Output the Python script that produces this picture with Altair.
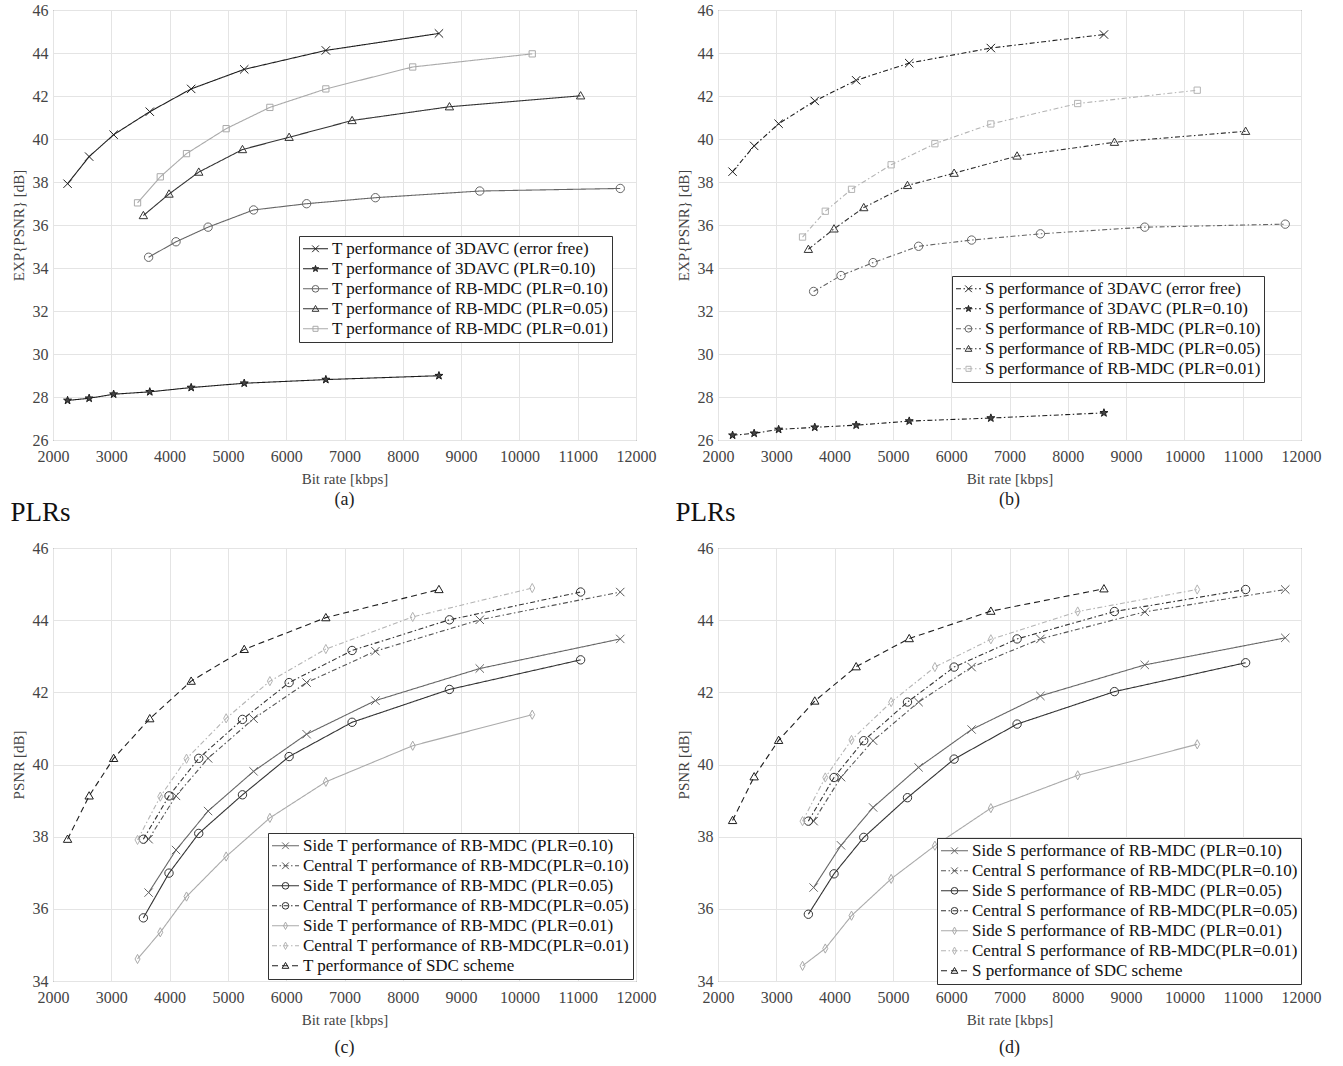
import altair as alt
import pandas as pd

FONT = "Liberation Serif"

# ---------------- data ----------------
BR_3DAVC = [2250, 2620, 3040, 3660, 4370, 5280, 6680, 8620]
BR_PLR010 = [3640, 4110, 4660, 5440, 6350, 7530, 9320, 11730]
BR_PLR005 = [3550, 3990, 4500, 5250, 6050, 7130, 8800, 11050]
BR_PLR001 = [3450, 3840, 4290, 4970, 5720, 6680, 8170, 10220]

# (a) T performance
A_3DAVC_FREE = [37.92, 39.18, 40.20, 41.27, 42.33, 43.24, 44.12, 44.91]
A_3DAVC_010 = [27.84, 27.94, 28.13, 28.24, 28.44, 28.64, 28.81, 28.99]
A_RBMDC_010 = [34.50, 35.22, 35.90, 36.70, 36.99, 37.27, 37.58, 37.70]
A_RBMDC_005 = [36.44, 37.44, 38.46, 39.51, 40.08, 40.86, 41.50, 42.01]
A_RBMDC_001 = [37.03, 38.24, 39.32, 40.48, 41.47, 42.33, 43.35, 43.96]

# (b) S performance
B_3DAVC_FREE = [38.48, 39.68, 40.71, 41.77, 42.73, 43.53, 44.23, 44.86]
B_3DAVC_010 = [26.22, 26.31, 26.49, 26.59, 26.69, 26.88, 27.02, 27.26]
B_RBMDC_010 = [32.91, 33.65, 34.25, 35.01, 35.30, 35.59, 35.90, 36.04]
B_RBMDC_005 = [34.87, 35.82, 36.81, 37.84, 38.41, 39.21, 39.85, 40.36]
B_RBMDC_001 = [35.44, 36.64, 37.66, 38.80, 39.78, 40.70, 41.65, 42.27]

# (c) T performance, side / central
C_SIDE_010 = [36.45, 37.63, 38.71, 39.81, 40.84, 41.77, 42.66, 43.48]
C_CENT_010 = [37.93, 39.13, 40.17, 41.27, 42.27, 43.14, 44.01, 44.78]
C_SIDE_005 = [35.75, 36.99, 38.09, 39.16, 40.22, 41.17, 42.08, 42.90]
C_CENT_005 = [37.93, 39.13, 40.17, 41.25, 42.27, 43.16, 44.01, 44.78]
C_SIDE_001 = [34.61, 35.35, 36.34, 37.45, 38.52, 39.52, 40.52, 41.38]
C_CENT_001 = [37.91, 39.11, 40.16, 41.28, 42.31, 43.20, 44.09, 44.89]
C_SDC = [37.93, 39.13, 40.17, 41.27, 42.31, 43.19, 44.07, 44.85]

# (d) S performance, side / central
D_SIDE_010 = [36.59, 37.76, 38.81, 39.92, 40.97, 41.90, 42.76, 43.51]
D_CENT_010 = [38.43, 39.65, 40.66, 41.73, 42.70, 43.48, 44.23, 44.85]
D_SIDE_005 = [35.85, 36.97, 37.98, 39.08, 40.15, 41.12, 42.02, 42.82]
D_CENT_005 = [38.43, 39.64, 40.66, 41.73, 42.70, 43.48, 44.24, 44.85]
D_SIDE_001 = [34.42, 34.90, 35.81, 36.83, 37.75, 38.79, 39.70, 40.56]
D_CENT_001 = [38.43, 39.64, 40.68, 41.73, 42.70, 43.47, 44.24, 44.85]
D_SDC = [38.45, 39.66, 40.67, 41.76, 42.71, 43.49, 44.25, 44.87]

X_TICKS = [2000, 3000, 4000, 5000, 6000, 7000, 8000, 9000, 10000, 11000, 12000]
Y_TICKS_AB = [26, 28, 30, 32, 34, 36, 38, 40, 42, 44, 46]
Y_TICKS_CD = [34, 36, 38, 40, 42, 44, 46]

# ---------------- styles ----------------
X_MARK = "M-1,-1L1,1M-1,1L1,-1"
STAR = ("M0,-1L0.235,-0.324L0.951,-0.309L0.380,0.124L0.588,0.809L0,0.4"
        "L-0.588,0.809L-0.380,0.124L-0.951,-0.309L-0.235,-0.324Z")
CIRCLE = "circle"
TRI = "M0,-1L1,0.75L-1,0.75Z"
SQUARE = "M-0.75,-0.75L0.75,-0.75L0.75,0.75L-0.75,0.75Z"
DIAMOND = "M0,-1.1L0.6,0L0,1.1L-0.6,0Z"
SOLID = [1, 0]
DASHDOT = [5, 2.5, 1.5, 2.5]
DASHED = [6, 4]
NOFILL = "transparent"

IND = dict(color="independent", stroke="independent", shape="independent",
           strokeDash="independent", fill="independent")

ROW_H = 19.6
LAB_FS = 17


def panel(series, ydom, yticks, ytitle, lx, ly, w, h, caption, lsym, cap_off):
    rows = []
    for name, xs, ys, col, dash, shp, fil in series:
        for i, (xv, yv) in enumerate(zip(xs, ys)):
            rows.append({"series": name, "series_m": name + " ", "x": xv, "y": yv, "i": i})
    df = pd.DataFrame(rows)
    names = [s[0] for s in series]
    names_m = [s[0] + " " for s in series]
    colors = [s[3] for s in series]
    dashes = [s[4] for s in series]
    shapes = [s[5] for s in series]
    fills = [s[6] for s in series]

    xenc = alt.X("x:Q", scale=alt.Scale(domain=[2000, 12000], nice=False, zero=False),
                 axis=alt.Axis(values=X_TICKS, format="d", title="Bit rate [kbps]",
                               grid=True, gridColor="#e4e4e4", ticks=False, domain=False,
                               labelOverlap=False, labelFlush=False,
                               labelFont=FONT, labelFontSize=16, labelColor="#444",
                               labelPadding=8, titleFont=FONT, titleFontSize=15,
                               titleColor="#444", titleFontWeight="normal", titlePadding=7))
    yenc = alt.Y("y:Q", scale=alt.Scale(domain=ydom, nice=False, zero=False),
                 axis=alt.Axis(values=yticks, format="d", title=ytitle,
                               grid=True, gridColor="#e4e4e4", ticks=False, domain=False,
                               labelOverlap=False, labelFlush=False,
                               labelFont=FONT, labelFontSize=16, labelColor="#444",
                               labelPadding=5, titleFont=FONT, titleFontSize=15,
                               titleColor="#444", titleFontWeight="normal", titlePadding=6))

    common = dict(title=None, orient="none", legendX=lx, legendY=ly,
                  labelFont=FONT, labelFontSize=LAB_FS, padding=3, rowPadding=0,
                  clipHeight=ROW_H, labelOffset=3, labelLimit=0)
    leg_lines = alt.Legend(symbolType="stroke", symbolSize=lsym * lsym, symbolStrokeWidth=1.1,
                           labelColor="#111", strokeColor="#333", fillColor="white",
                           zindex=1, **common)
    off = (lsym + 2) / 2 - LAB_FS / 2
    leg_marks = alt.Legend(symbolSize=45, symbolStrokeWidth=1, labelExpr="''",
                           symbolOffset=off, zindex=2, **common)

    line = alt.Chart(df).mark_line(strokeWidth=1.1).encode(
        x=xenc, y=yenc,
        color=alt.Color("series:N", scale=alt.Scale(domain=names, range=colors), legend=leg_lines),
        strokeDash=alt.StrokeDash("series:N", scale=alt.Scale(domain=names, range=dashes), legend=leg_lines),
        order="i:Q",
    )
    pts = alt.Chart(df).mark_point(filled=False, size=70, strokeWidth=1, opacity=1).encode(
        x=xenc, y=yenc,
        stroke=alt.Stroke("series_m:N", scale=alt.Scale(domain=names_m, range=colors), legend=leg_marks),
        shape=alt.Shape("series_m:N", scale=alt.Scale(domain=names_m, range=shapes), legend=leg_marks),
        fill=alt.Fill("series_m:N", scale=alt.Scale(domain=names_m, range=fills), legend=leg_marks),
    )
    return alt.layer(line, pts).properties(
        width=w, height=h,
        title=alt.TitleParams(text=caption, orient="bottom", font=FONT, fontSize=18,
                              fontWeight="normal", color="#222", offset=cap_off),
    )


K = "#1e1e1e"
G1 = "#333333"
G2 = "#666666"
G3 = "#aaaaaa"

series_a = [
    ("T performance of 3DAVC (error free)", BR_3DAVC, A_3DAVC_FREE, K, SOLID, X_MARK, NOFILL),
    ("T performance of 3DAVC (PLR=0.10)", BR_3DAVC, A_3DAVC_010, K, SOLID, STAR, "#444444"),
    ("T performance of RB-MDC (PLR=0.10)", BR_PLR010, A_RBMDC_010, G2, SOLID, CIRCLE, NOFILL),
    ("T performance of RB-MDC (PLR=0.05)", BR_PLR005, A_RBMDC_005, G1, SOLID, TRI, NOFILL),
    ("T performance of RB-MDC (PLR=0.01)", BR_PLR001, A_RBMDC_001, G3, SOLID, SQUARE, NOFILL),
]
series_b = [
    ("S performance of 3DAVC (error free)", BR_3DAVC, B_3DAVC_FREE, K, DASHDOT, X_MARK, NOFILL),
    ("S performance of 3DAVC (PLR=0.10)", BR_3DAVC, B_3DAVC_010, K, DASHDOT, STAR, "#444444"),
    ("S performance of RB-MDC (PLR=0.10)", BR_PLR010, B_RBMDC_010, G2, DASHDOT, CIRCLE, NOFILL),
    ("S performance of RB-MDC (PLR=0.05)", BR_PLR005, B_RBMDC_005, G1, DASHDOT, TRI, NOFILL),
    ("S performance of RB-MDC (PLR=0.01)", BR_PLR001, B_RBMDC_001, "#b4b4b4", DASHDOT, SQUARE, NOFILL),
]
series_c = [
    ("Side T performance of RB-MDC (PLR=0.10)", BR_PLR010, C_SIDE_010, G2, SOLID, X_MARK, NOFILL),
    ("Central T performance of RB-MDC(PLR=0.10)", BR_PLR010, C_CENT_010, "#555555", DASHDOT, X_MARK, NOFILL),
    ("Side T performance of RB-MDC (PLR=0.05)", BR_PLR005, C_SIDE_005, G1, SOLID, CIRCLE, NOFILL),
    ("Central T performance of RB-MDC(PLR=0.05)", BR_PLR005, C_CENT_005, G1, DASHDOT, CIRCLE, NOFILL),
    ("Side T performance of RB-MDC (PLR=0.01)", BR_PLR001, C_SIDE_001, G3, SOLID, DIAMOND, NOFILL),
    ("Central T performance of RB-MDC(PLR=0.01)", BR_PLR001, C_CENT_001, "#b4b4b4", DASHDOT, DIAMOND, NOFILL),
    ("T performance of SDC scheme", BR_3DAVC, C_SDC, K, DASHED, TRI, NOFILL),
]
series_d = [
    ("Side S performance of RB-MDC (PLR=0.10)", BR_PLR010, D_SIDE_010, G2, SOLID, X_MARK, NOFILL),
    ("Central S performance of RB-MDC(PLR=0.10)", BR_PLR010, D_CENT_010, "#555555", DASHDOT, X_MARK, NOFILL),
    ("Side S performance of RB-MDC (PLR=0.05)", BR_PLR005, D_SIDE_005, G1, SOLID, CIRCLE, NOFILL),
    ("Central S performance of RB-MDC(PLR=0.05)", BR_PLR005, D_CENT_005, G1, DASHDOT, CIRCLE, NOFILL),
    ("Side S performance of RB-MDC (PLR=0.01)", BR_PLR001, D_SIDE_001, G3, SOLID, DIAMOND, NOFILL),
    ("Central S performance of RB-MDC(PLR=0.01)", BR_PLR001, D_CENT_001, "#b4b4b4", DASHDOT, DIAMOND, NOFILL),
    ("S performance of SDC scheme", BR_3DAVC, D_SDC, K, DASHED, TRI, NOFILL),
]

W = 583
pa = panel(series_a, [26, 46], Y_TICKS_AB, "EXP{PSNR} [dB]", 246, 226, W, 430, "(a)", 25, 5)
pb = panel(series_b, [26, 46], Y_TICKS_AB, "EXP{PSNR} [dB]", 234, 266, W, 430, "(b)", 25, 5)
pc = panel(series_c, [34, 46], Y_TICKS_CD, "PSNR [dB]", 215, 285, W, 433, "(c)", 27, 12)
pd_ = panel(series_d, [34, 46], Y_TICKS_CD, "PSNR [dB]", 219, 290, W, 433, "(d)", 27, 12)

plrs = dict(text="PLRs", orient="bottom", anchor="start", font=FONT, fontSize=27,
            fontWeight="normal", color="#111", offset=-10)
wa = alt.hconcat(pa, title=alt.TitleParams(**plrs)).resolve_scale(**IND)
wb = alt.hconcat(pb, title=alt.TitleParams(**plrs)).resolve_scale(**IND)

row1 = alt.hconcat(wa, wb, spacing=18).resolve_scale(**IND)
row2 = alt.hconcat(pc, pd_, spacing=18).resolve_scale(**IND)

chart = alt.vconcat(row1, row2, spacing=13).resolve_scale(**IND).properties(
    padding={"left": 10, "top": 1, "right": 5, "bottom": 5},
    background="white",
).configure(font=FONT).configure_view(stroke="#444444", strokeWidth=1)

chart.save("out.html", embed_options={"renderer": "svg", "actions": False})
